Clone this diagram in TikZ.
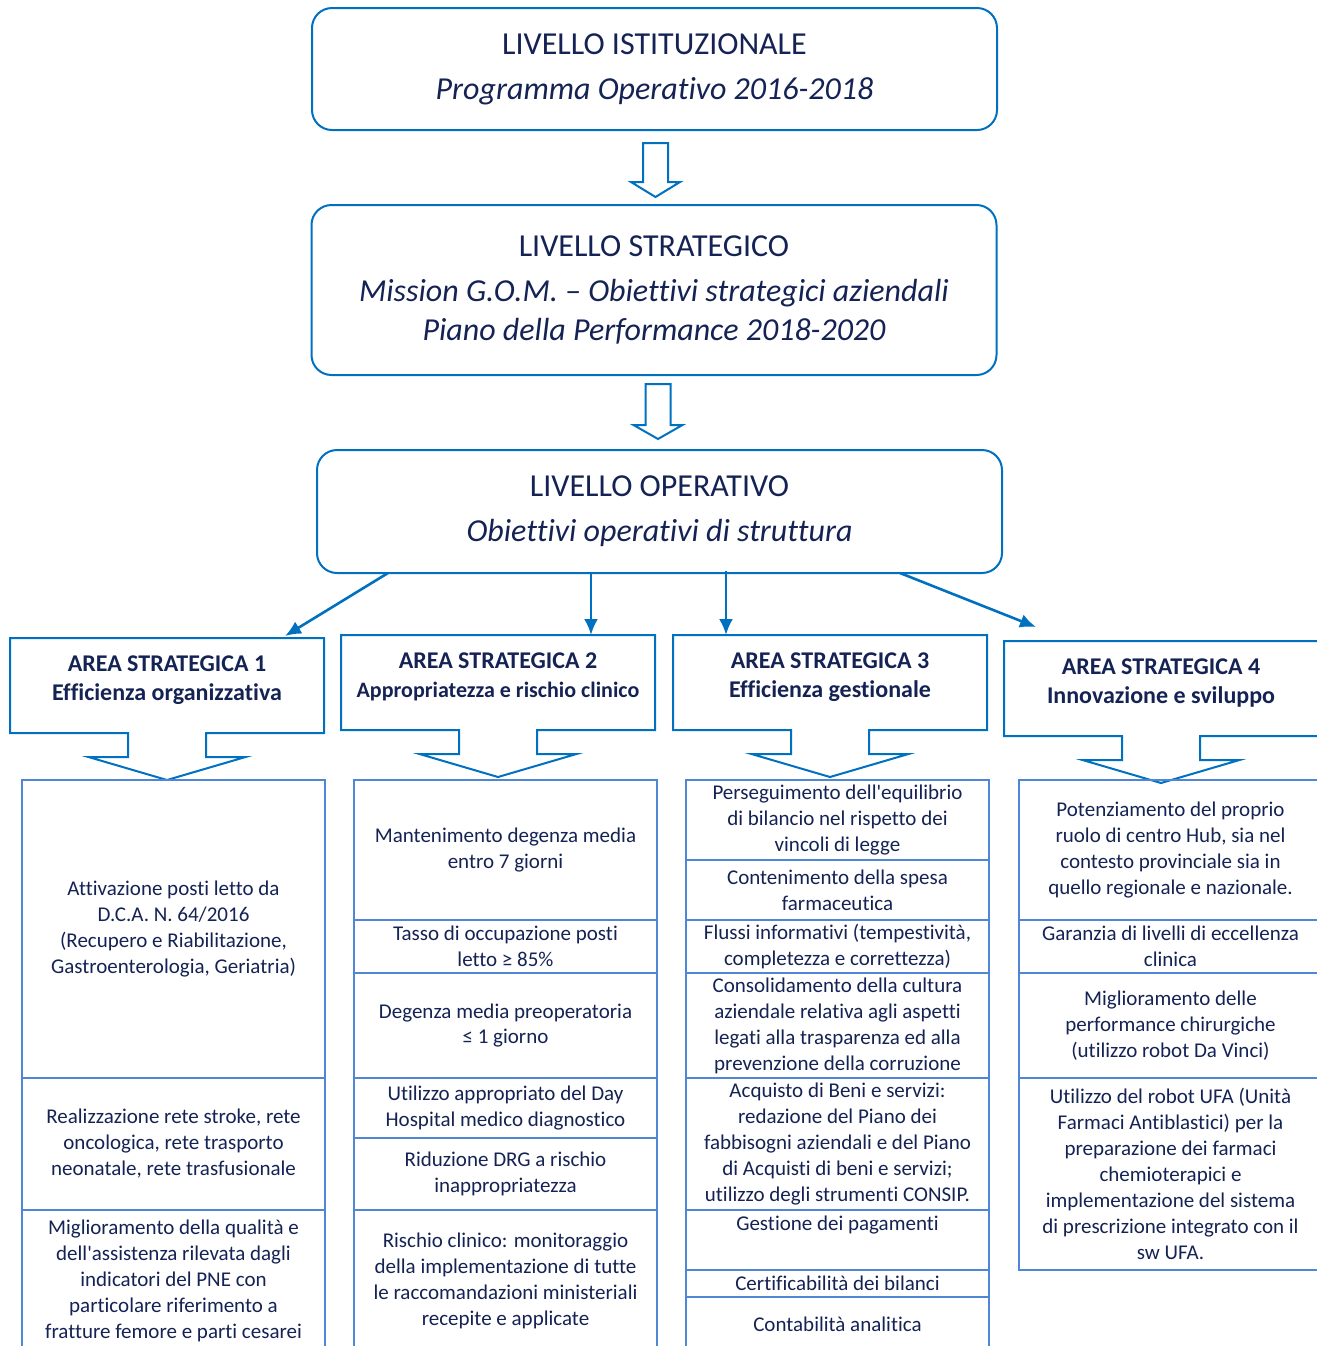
\documentclass[tikz,border=0pt]{standalone}
\usepackage{fontspec}
\setmainfont{Carlito}[Ligatures={TeX,NoCommon}]
\usetikzlibrary{arrows.meta,calc}

\definecolor{boxblue}{RGB}{0,112,192}
\definecolor{cellblue}{RGB}{79,135,214}
\definecolor{navy}{RGB}{20,34,84}

\newcommand\BlockArrow[4]{% x, top of stem, base of head, tip
  \draw[blockarrow] ({#1-12.5},#2) -- ({#1+12.5},#2) -- ({#1+12.5},#3) -- ({#1+24.5},#3)
    -- (#1,#4) -- ({#1-24.5},#3) -- ({#1-12.5},#3) -- cycle;
}
\newcommand\AreaBox[4]{% name, left, top, text
  \draw[arealine] (#2,#3) -- ++(314,0) -- ++(0,95) -- ++(-118,0) -- ++(0,24)
    -- ++(39.5,0) -- ++(-78.5,23) -- ++(-78.5,-23) -- ++(39.5,0) -- ++(0,-24)
    -- ++(-118,0) -- cycle;
  \coordinate (#1nw) at (#2,#3);
  \node[areatext] (#1) at ({#2+157},{#3+42}) {#4};
}
\newcommand\Cell[5]{% name, x centre, top, bottom, text
  \node[cell, minimum height={(#4-#3)*0.5pt}] (#1) at (#2,{(#3+#4)/2}) {#5};
}
\newcommand\q{\textquotesingle}

\tikzset{
  >={Latex[length=8pt,width=7pt]},
  titlebox/.style={draw=boxblue, line width=1pt, rounded corners=10pt, align=center,
    text=navy, font=\fontsize{16}{19.5}\selectfont, minimum width=342.5pt,
    inner sep=0pt, outer sep=0pt},
  blockarrow/.style={draw=boxblue, line width=1pt, fill=white, line join=miter},
  arealine/.style={draw=boxblue, line width=1pt, line join=miter},
  areatext/.style={align=center, text=navy, font=\bfseries\fontsize{12}{14.5}\selectfont},
  flow/.style={->, draw=boxblue, line width=1.3pt},
  cell/.style={draw=cellblue, line width=1pt, minimum width=151.5pt, align=center,
    inner sep=0pt, text=navy, font=\fontsize{10.5}{13}\selectfont}
}

\begin{document}
\begin{tikzpicture}[x=0.5pt,y=-0.5pt]
  \useasboundingbox (0,0) rectangle (1317,1346);
  \clip (0,0) rectangle (1317,1346);

  %% the three levels
  \node[titlebox, minimum height=61pt] (istituz) at (654.5,69)
    {LIVELLO ISTITUZIONALE\\[3pt]\textit{Programma Operativo 2016-2018}};
  \node[titlebox, minimum height=85pt] (strateg) at (654,290)
    {LIVELLO STRATEGICO\\[3pt]\itshape Mission G.O.M. -- Obiettivi strategici aziendali\\
     \itshape Piano della Performance 2018-2020};
  \node[titlebox, minimum height=61.5pt] (operat) at (659.5,511.5)
    {LIVELLO OPERATIVO\\[3pt]\textit{Obiettivi operativi di struttura}};

  \BlockArrow{655.5}{143}{182}{197}
  \BlockArrow{658}{384}{425}{439}

  %% strategic areas
  \AreaBox{area1}{10}{638}{AREA STRATEGICA 1\\Efficienza organizzativa}
  \AreaBox{area2}{341}{635}{AREA STRATEGICA 2\\{\fontsize{11}{14}\selectfont Appropriatezza e rischio clinico}}
  \AreaBox{area3}{673}{635}{AREA STRATEGICA 3\\Efficienza gestionale}
  \AreaBox{area4}{1004}{641}{AREA STRATEGICA 4\\Innovazione e sviluppo}

  \draw[flow] ($(operat.south west)+(71,0)$) -- ($(area1nw)+(275,-2)$);
  \draw[flow] ($(operat.south west)+(274,0)$) -- ($(area2nw)+(250,0)$);
  \draw[flow] ($(operat.south west)+(409,-2)$) -- ($(area3nw)+(53,0)$);
  \draw[flow] ($(operat.south west)+(583,0)$) -- ($(area4nw)+(32,-14)$);

  %% objectives, area 1
  \Cell{c1a}{173.5}{780}{1078}{Attivazione posti letto da\\D.C.A. N. 64/2016\\(Recupero e Riabilitazione,\\Gastroenterologia, Geriatria)}
  \Cell{c1b}{173.5}{1078}{1210}{Realizzazione rete stroke, rete\\oncologica, rete trasporto\\neonatale, rete trasfusionale}
  \Cell{c1c}{173.5}{1210}{1352}{Miglioramento della qualità e\\dell\q assistenza rilevata dagli\\indicatori del PNE con\\particolare riferimento a\\fratture femore e parti cesarei}

  %% objectives, area 2
  \Cell{c2a}{505.5}{780}{920}{Mantenimento degenza media\\entro 7 giorni}
  \Cell{c2b}{505.5}{920}{973}{Tasso di occupazione posti\\letto ≥ 85\%}
  \Cell{c2c}{505.5}{973}{1078}{Degenza media preoperatoria\\≤ 1 giorno}
  \Cell{c2d}{505.5}{1078}{1138}{Utilizzo appropriato del Day\\Hospital medico diagnostico}
  \Cell{c2e}{505.5}{1138}{1210}{Riduzione DRG a rischio\\inappropriatezza}
  \Cell{c2f}{505.5}{1210}{1352}{Rischio clinico: monitoraggio\\della implementazione di tutte\\le raccomandazioni ministeriali\\recepite e applicate}

  %% objectives, area 3
  \Cell{c3a}{837.5}{780}{860}{Perseguimento dell\q equilibrio\\di bilancio nel rispetto dei\\vincoli di legge}
  \Cell{c3b}{837.5}{860}{920}{Contenimento della spesa\\farmaceutica}
  \Cell{c3c}{837.5}{920}{973}{Flussi informativi (tempestività,\\completezza e correttezza)}
  \Cell{c3d}{837.5}{973}{1078}{Consolidamento della cultura\\aziendale relativa agli aspetti\\legati alla trasparenza ed alla\\prevenzione della corruzione}
  \Cell{c3e}{837.5}{1078}{1210}{Acquisto di Beni e servizi:\\redazione del Piano dei\\fabbisogni aziendali e del Piano\\di Acquisti di beni e servizi;\\utilizzo degli strumenti CONSIP.}
  \Cell{c3f}{837.5}{1210}{1270}{Gestione dei pagamenti\\\strut}
  \Cell{c3g}{837.5}{1270}{1297}{Certificabilità dei bilanci}
  \Cell{c3h}{837.5}{1297}{1352}{Contabilità analitica}

  %% objectives, area 4
  \Cell{c4a}{1170.5}{780}{920}{Potenziamento del proprio\\ruolo di centro Hub, sia nel\\contesto provinciale sia in\\quello regionale e nazionale.}
  \Cell{c4b}{1170.5}{920}{973}{Garanzia di livelli di eccellenza\\clinica}
  \Cell{c4c}{1170.5}{973}{1078}{Miglioramento delle\\performance chirurgiche\\(utilizzo robot Da Vinci)}
  \Cell{c4d}{1170.5}{1078}{1270}{Utilizzo del robot UFA (Unità\\Farmaci Antiblastici) per la\\preparazione dei farmaci\\chemioterapici e\\implementazione del sistema\\di prescrizione integrato con il\\sw UFA.}
\end{tikzpicture}
\end{document}
